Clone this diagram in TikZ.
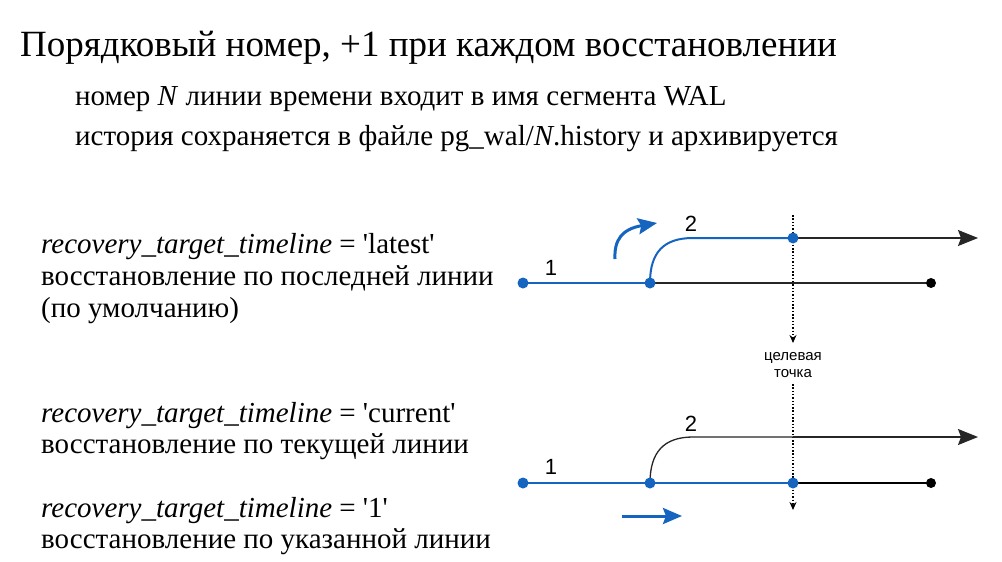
\documentclass[tikz,border=0pt]{standalone}
\usepackage{fontspec}
\setmainfont{Liberation Serif}
\newfontfamily\diagfont{Liberation Sans}
\usetikzlibrary{arrows.meta}
\definecolor{tlblue}{RGB}{21,101,192}
\newcommand\sq{\textquotesingle}
\begin{document}
\begin{tikzpicture}[x=1pt,y=-1pt,
  bl/.style={draw=tlblue, line width=2pt},
  bk/.style={draw=black!85, line width=1.3pt},
  bkthick/.style={draw=black, line width=2.3pt},
  bdot/.style={circle, fill=tlblue, inner sep=0pt, minimum size=11pt},
  kdot/.style={circle, fill=black, inner sep=0pt, minimum size=10pt},
  bigtip/.style={-{Stealth[length=20pt,width=16pt,inset=3pt]}},
  bluetip/.style={-{Stealth[length=19pt,width=16pt,inset=3pt]}},
  dots/.style={draw=black, line width=1.2pt, dash pattern=on 1.5pt off 1.8pt, -{Stealth[length=8pt,width=7pt]}},
  num/.style={font=\diagfont\fontsize{22}{22}\selectfont, inner sep=0pt},
  small/.style={font=\diagfont\fontsize{15}{15}\selectfont, inner sep=0pt, anchor=base},
  titletxt/.style={anchor=base west, inner sep=0pt, font=\fontsize{37}{37}\selectfont},
  subtxt/.style={anchor=base west, inner sep=0pt, font=\fontsize{29}{29}\selectfont},
  txt/.style={anchor=base west, inner sep=0pt, font=\fontsize{29}{29}\selectfont}]
\useasboundingbox (0,0) rectangle (1002,562);
\fill[white] (0,0) rectangle (1002,562);

% texts
\node[titletxt] (title) at (20,56) {Порядковый номер, +1 при каждом восстановлении};
\node[subtxt] (sub1) at (75,105) {номер \textit{N} линии времени входит в имя сегмента WAL};
\node[subtxt] (sub2) at (75,145) {история сохраняется в файле pg\_wal/\textit{N}.history и архивируется};

\node[txt] (l1) at (41,253) {\textit{recovery\_target\_timeline} = \sq latest\sq};
\node[txt] (l2) at (41,285) {восстановление по последней линии};
\node[txt] (l3) at (41,317) {(по умолчанию)};
\node[txt] (l4) at (41,422) {\textit{recovery\_target\_timeline} = \sq current\sq};
\node[txt] (l5) at (41,453) {восстановление по текущей линии};
\node[txt] (l6) at (41,517) {\textit{recovery\_target\_timeline} = \sq 1\sq};
\node[txt] (l7) at (41,548) {восстановление по указанной линии};

% target point
\coordinate (d1) at (793,215);
\coordinate (d2) at (793,343);
\coordinate (d3) at (793,384);
\coordinate (d4) at (793,510);
\draw[dots] (d1) -- (d2);
\draw[dots] (d3) -- (d4);
\node[small] (t1) at (793,360) {целевая};
\node[small] (t2) at (793,377) {точка};

% top diagram
\coordinate (a1) at (523,283);
\coordinate (a2) at (650,283);
\coordinate (a3) at (931,283);
\coordinate (a4) at (793,238);
\coordinate (a5) at (978,238);
\draw[bk] (a2) -- (a3);
\draw[bl] (a1) -- (a2);
\draw[bl] (a2) .. controls (650,252) and (664,238) .. (693,238) -- (a4);
\draw[bk, bigtip] (a4) -- (a5);
\node[bdot] (na1) at (a1) {};
\node[bdot] (na2) at (a2) {};
\node[kdot] (na3) at (a3) {};
\node[bdot] (na4) at (a4) {};
\node[num] (n1a) at (551,268) {1};
\node[num] (n2a) at (691,224) {2};
\coordinate (c1) at (615,259);
\coordinate (c2) at (657,223);
\draw[draw=tlblue, line width=3pt, bluetip] (c1) .. controls (614,240) and (622,229) .. (c2);

% bottom diagram
\coordinate (b1) at (523,483);
\coordinate (b2) at (650,483);
\coordinate (b3) at (793,483);
\coordinate (b4) at (931,483);
\coordinate (b5) at (978,437);
\draw[bk] (b2) .. controls (650,452) and (664,437) .. (693,437) -- (793,437);
\draw[bk, bigtip] (793,437) -- (b5);
\draw[bl] (b1) -- (b2) -- (b3);
\draw[bkthick] (b3) -- (b4);
\node[bdot] (nb1) at (b1) {};
\node[bdot] (nb2) at (b2) {};
\node[bdot] (nb3) at (b3) {};
\node[kdot] (nb4) at (b4) {};
\node[num] (n1b) at (551,467) {1};
\node[num] (n2b) at (691,424) {2};
\coordinate (e1) at (622,516);
\coordinate (e2) at (682,516);
\draw[draw=tlblue, line width=3pt, bluetip] (e1) -- (e2);
\end{tikzpicture}
\end{document}
